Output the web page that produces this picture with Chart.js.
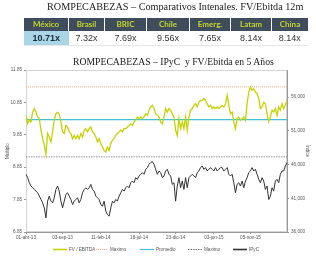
<!DOCTYPE html>
<html><head><meta charset="utf-8">
<script src="https://cdn.jsdelivr.net/npm/chart.js@4.4.1/dist/chart.umd.min.js"></script>
<style>
html,body{margin:0;padding:0;background:#fff;}
#wrap{position:relative;width:316px;height:256px;overflow:hidden;}
#c{position:absolute;left:0;top:0;}
.t{position:absolute;font-family:"Liberation Serif",serif;color:#1a1a1a;white-space:nowrap;line-height:1;}
#t1{left:47px;top:1.9px;font-size:10.2px;}
#t2{left:73px;top:56.8px;font-size:9.7px;}
#tbl{position:absolute;left:24px;top:18px;border-collapse:collapse;table-layout:fixed;}
#tbl th{background:#3e4c5b;color:#c4d52c;font-family:Lato,"Liberation Sans",sans-serif;font-weight:bold;font-size:8px;height:12.5px;padding:0;border-right:1px solid #fff;text-align:center;}
#tbl th:last-child{border-right:none;}
#tbl td{font-family:"Liberation Sans",Arial,sans-serif;font-size:9px;color:#333;height:13.5px;padding:0;padding-top:1px;text-align:center;border-bottom:1px solid #e6e6e6;}
#tbl td.hi{background:#a9d5e7;font-weight:bold;color:#1b2b3a;}
</style></head>
<body><div id="wrap">
<canvas id="c" width="316" height="256"></canvas>
<div class="t" id="t1">ROMPECABEZAS – Comparativos Intenales. FV/Ebitda 12m</div>
<table id="tbl"><thead><tr id="hrow"></tr></thead><tbody><tr id="vrow"></tr></tbody></table>
<div class="t" id="t2">ROMPECABEZAS – IPyC&nbsp; y FV/Ebitda en 5 Años</div>
</div>
<script>
// ---- table data ----
const regions = ['México','Brasil','BRIC','Chile','Emerg.','Latam','China'];
const regionMultiples = ['10.71x','7.32x','7.69x','9.56x','7.65x','8.14x','8.14x'];
const colWidths = [44,35,41,42,40,40,36];

// ---- chart data (weekly, from 01-abr-13) ----
const startDate = '2013-04-01';
const fvEbitda = [
10.45,10.19,10.30,10.25,10.55,10.66,10.55,10.40,10.35,9.99,
9.73,9.53,9.25,9.89,9.78,9.63,9.94,10.30,10.50,10.55,
10.48,10.25,9.94,9.89,10.14,10.09,9.94,9.89,9.73,9.83,
9.73,9.83,9.73,9.89,9.78,9.99,10.04,9.94,10.04,10.09,
9.94,9.89,9.78,9.63,9.73,9.58,9.47,9.37,9.32,9.47,
9.37,9.58,
9.68,9.73,9.83,9.89,9.94,9.99,9.94,10.04,10.04,10.09,
10.14,10.19,10.14,10.25,10.30,10.40,10.35,10.40,10.35,10.40,
10.50,10.45,10.61,10.71,10.76,10.66,10.50,10.45,10.40,10.25,
10.19,10.40,10.66,10.55,10.66,10.61,10.50,10.40,9.99,9.83,
10.35,10.04,10.25,10.04,10.40,9.99,10.40,10.61,10.66,10.76,
10.81,10.71,10.86,
10.91,10.91,10.97,10.91,10.81,10.71,10.76,10.66,10.71,10.66,
10.71,10.66,10.71,10.76,10.71,10.81,11.07,10.76,10.50,10.55,
10.25,10.04,10.35,10.40,10.30,10.35,10.40,10.30,10.81,11.17,
11.33,11.22,11.27,11.17,11.12,10.97,10.66,10.71,10.86,10.81,
10.50,10.25,10.40,10.61,10.55,10.66,10.45,10.71,10.61,10.81,
10.66,10.76,10.91];
const ipyc = [
44550,44050,43300,42810,42560,42310,42060,41810,41320,40820,
40320,39580,38090,40570,41320,40570,40320,41070,42310,42810,
42060,40570,39580,40570,41570,41810,41320,40820,40070,40570,
40820,41070,40320,40820,41810,42310,42560,42310,42560,43060,
42310,42060,41320,41070,40820,40070,39830,40570,39080,38580,
38340,39580,
40570,40320,40820,40570,41320,41810,42310,42060,42560,42810,
42560,43300,43550,43300,44050,43800,44300,44550,44800,44550,
45290,45540,46040,46290,46430,46040,45290,44550,45040,44800,
44050,44300,45040,45290,44550,44300,43060,43300,40570,42810,
44050,42560,43550,42310,44050,42560,44050,44300,44550,44300,
44050,44800,45040,
45540,45790,45290,45540,45040,45290,45540,45290,45040,45540,
45040,45290,45540,45540,45040,45290,45540,44550,44300,44550,
43300,41810,43060,43300,42810,43550,42560,43550,44050,44800,
45040,45540,45040,45290,44550,43800,43300,44050,43550,42310,
42810,40820,41320,42560,42060,43550,43800,43300,44550,45040,
45040,45790,46290];
const fvMaximo = 11.33;
const fvPromedio = 10.32;
const ipycMaximo = 47130;
const xTickLabels = ['01-abr-13','03-sep-13','11-feb-14','18-jul-14','23-dic-14','03-jun-15','05-nov-15'];
const leftTicks = [6.85,7.85,8.85,9.85,10.85,11.85];
const rightTicks = [36000,41000,46000,51000,56000];
const seriesNames = ['FV / EBITDA','Maximo','Promedio','Maximo','IPyC'];

// ---- build table ----
const hrow = document.getElementById('hrow'), vrow = document.getElementById('vrow');
regions.forEach((r,i)=>{
  const th=document.createElement('th'); th.textContent=r; th.style.width=colWidths[i]+'px'; hrow.appendChild(th);
  const td=document.createElement('td'); td.textContent=regionMultiples[i]; if(i===0) td.className='hi'; vrow.appendChild(td);
});

// ---- category labels ----
const meses=['ene','feb','mar','abr','may','jun','jul','ago','sep','oct','nov','dic'];
const d0=new Date(startDate+'T00:00:00Z');
const dates=fvEbitda.map((_,i)=>new Date(d0.getTime()+i*7*86400000));
const fmt=d=>String(d.getUTCDate()).padStart(2,'0')+'-'+meses[d.getUTCMonth()]+'-'+String(d.getUTCFullYear()).slice(2);
const labels=dates.map(fmt);
function parseLbl(s){const p=s.split('-');return Date.UTC(2000+(+p[2]),meses.indexOf(p[1]),+p[0]);}
const xTickIdx=xTickLabels.map(s=>{const t=parseLbl(s);let best=0,bd=Infinity;dates.forEach((d,i)=>{const dd=Math.abs(d.getTime()-t);if(dd<bd){bd=dd;best=i;}});return best;});

const FONT='"Liberation Sans",Arial,sans-serif';
const tickFont={family:FONT,size:4.6};
const frame={id:'frame',beforeDatasetsDraw(ch){const a=ch.chartArea,c=ch.ctx;c.save();c.strokeStyle='#d4d4d4';c.lineWidth=1;c.strokeRect(a.left+0.5,a.top+0.5,a.right-a.left-1,a.bottom-a.top-1);c.restore();}};
// legend drawn from the datasets, laid out like the original
const legendX=[53,94,140,188,233];
const bottomLegend={id:'bottomLegend',afterDraw(ch){
  const c=ch.ctx,y=249.5;c.save();c.font='4.6px '+FONT;c.fillStyle='#555';c.textBaseline='middle';
  ch.data.datasets.forEach((ds,i)=>{const x=legendX[i];
    c.strokeStyle=ds.borderColor;c.lineWidth=ds.legendWidth||1.2;c.setLineDash(ds.borderDash||[]);
    c.beginPath();c.moveTo(x,y);c.lineTo(x+14,y);c.stroke();c.setLineDash([]);
    c.fillText(ds.label,x+16,y);});
  c.restore();}};

new Chart(document.getElementById('c'),{
  type:'line',
  data:{labels,datasets:[
    {label:seriesNames[0],data:fvEbitda,yAxisID:'y',borderColor:'#c6d200',borderWidth:1.3,legendWidth:1.6},
    {label:seriesNames[1],data:labels.map(()=>fvMaximo),yAxisID:'y',borderColor:'#f4a47c',borderWidth:1,borderDash:[1,1]},
    {label:seriesNames[2],data:labels.map(()=>fvPromedio),yAxisID:'y',borderColor:'#3fc2d3',borderWidth:1.2},
    {label:seriesNames[3],data:labels.map(()=>ipycMaximo),yAxisID:'y1',borderColor:'#777',borderWidth:0.8,borderDash:[1.5,1]},
    {label:seriesNames[4],data:ipyc,yAxisID:'y1',borderColor:'#333',borderWidth:1,legendWidth:1.6}
  ]},
  options:{
    responsive:false,animation:false,
    layout:{padding:{top:70,left:0,right:0,bottom:13}},
    elements:{point:{radius:0},line:{tension:0}},
    plugins:{title:{display:false},tooltip:{enabled:false},legend:{display:false}},
    scales:{
      x:{type:'category',
        afterBuildTicks:s=>{s.ticks=xTickIdx.map(v=>({value:v}));},
        afterFit:s=>{s.height=11;},
        ticks:{autoSkip:false,maxRotation:0,minRotation:0,font:tickFont,color:'#555',padding:1,callback:(v,i)=>xTickLabels[i]},
        grid:{drawOnChartArea:false,tickLength:2,color:'#999'},border:{color:'#999'}},
      y:{position:'left',min:6.85,max:11.85,
        afterBuildTicks:s=>{s.ticks=leftTicks.map(v=>({value:v}));},
        afterFit:s=>{s.width=26;},
        ticks:{font:tickFont,color:'#555',padding:2,callback:v=>v.toFixed(2)},
        grid:{drawOnChartArea:false,tickLength:2,color:'#999'},border:{color:'#999'},
        title:{display:true,text:'Múltiplo',font:tickFont,color:'#555',padding:{top:4.5,bottom:0}}},
      y1:{position:'right',min:36000,max:60000,
        afterBuildTicks:s=>{s.ticks=rightTicks.map(v=>({value:v}));},
        afterFit:s=>{s.width=29;},
        ticks:{font:tickFont,color:'#555',padding:2,callback:v=>v.toLocaleString('en-US')},
        grid:{drawOnChartArea:false,tickLength:2,color:'#999'},border:{color:'#999'},
        title:{display:true,text:'Índice',font:tickFont,color:'#555',padding:{top:5.5,bottom:0}}}
    }
  },
  plugins:[frame,bottomLegend]
});
</script>
</body></html>
